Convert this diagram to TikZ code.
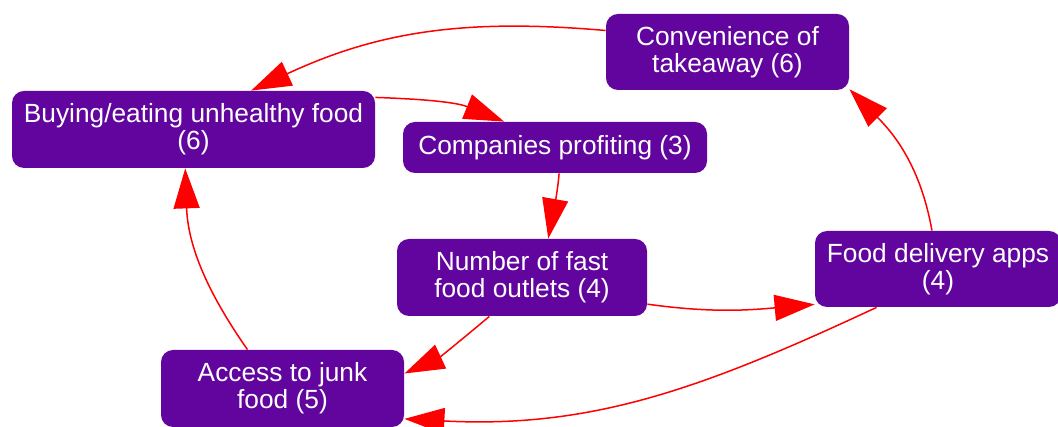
\documentclass[tikz,border=0pt]{standalone}
\usepackage{fontspec}
\setmainfont{Liberation Sans}
\usetikzlibrary{arrows.meta}
\definecolor{boxpurple}{RGB}{97,5,158}
\begin{document}
\begin{tikzpicture}[x=0.5pt,y=0.5pt,
    box/.style={fill=boxpurple,text=white,rounded corners=6pt,align=center,inner sep=0pt,
      font=\fontsize{13.15}{13.5}\selectfont},
    link/.style={red,line width=0.75pt,-{Triangle[length=20pt,width=13pt]}}]
  \useasboundingbox (0,0) rectangle (1058,427);
  \node[box,minimum width=181.5pt,minimum height=38.5pt] (buy) at (193.5,297.5) {Buying/eating unhealthy food\\(6)};
  \node[box,minimum width=152pt,minimum height=25.5pt] (comp) at (555,279.5) {Companies profiting (3)};
  \node[box,minimum width=121.5pt,minimum height=38pt] (conv) at (727.5,375) {Convenience of\\takeaway (6)};
  \node[box,minimum width=125pt,minimum height=38.5pt] (num) at (522,149.5) {Number of fast\\food outlets (4)};
  \node[box,minimum width=123pt,minimum height=38pt] (app) at (938,158) {Food delivery apps\\(4)};
  \node[box,minimum width=121.5pt,minimum height=38.5pt] (acc) at (282.5,38.5) {Access to junk\\food (5)};
  \draw[link] (conv.170) to[out=175,in=25] (buy.34);
  \draw[link] (buy.10) to[out=-2,in=158] (comp.153);
  \draw[link] (comp.-81) to[out=-95,in=80] (num.56);
  \draw[link] (num.-12) to[out=-8,in=185] (app.196);
  \draw[link] (app.99) to[out=100,in=-45] (conv.-17);
  \draw[link] (app.212) to[out=205,in=-3] (acc.-14);
  \draw[link] (num.230) to[out=220,in=25] (acc.7);
  \draw[link] (acc.132) to[out=125,in=-88] (buy.258);
\end{tikzpicture}
\end{document}
